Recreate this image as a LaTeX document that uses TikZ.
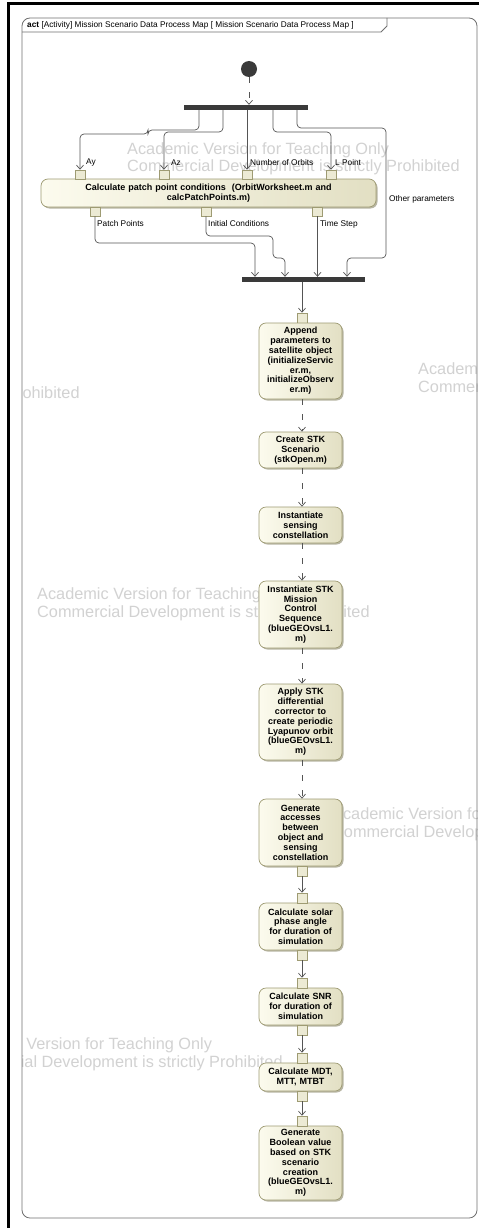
\documentclass[tikz,border=0pt]{standalone}
\usepackage{fontspec}
\setmainfont{Liberation Sans}
\usetikzlibrary{arrows.meta}
\definecolor{framec}{HTML}{707070}
\definecolor{boxL}{HTML}{FCFBEE}
\definecolor{boxR}{HTML}{E2DFC3}
\definecolor{boxB}{HTML}{9E9B73}
\definecolor{conn}{HTML}{555555}
\definecolor{barc}{HTML}{3A3A3A}
\definecolor{wm}{HTML}{D2D2D2}
\definecolor{shad}{HTML}{B8B6A4}
\newcommand{\bxf}{\fontsize{9}{9.8}\selectfont\bfseries}
\newcommand{\lbf}{\fontsize{8.3}{10}\selectfont}
\newcommand{\wmf}{\fontsize{16.3}{18}\selectfont}
\tikzset{
  actbox/.style={draw=boxB, line width=0.7pt, rounded corners=7pt, left color=boxL, right color=boxR,
    preaction={fill=shad, transform canvas={xshift=1.5pt,yshift=-1.5pt}},
    align=center, font=\bxf, inner sep=0pt, minimum width=83pt, text width=83pt},
  pinbox/.style={draw=boxB, line width=0.6pt, fill=boxR!60!boxL, minimum width=10pt, minimum height=9pt, inner sep=0pt},
  flow/.style={draw=conn, line width=0.7pt, rounded corners=4pt, -{Straight Barb[length=4pt,width=7pt]}},
  ctrl/.style={flow, dash pattern=on 6pt off 9pt},
  lbl/.style={font=\lbf, anchor=west, inner sep=0pt},
  wmk/.style={font=\wmf, text=wm, anchor=base west, inner sep=0pt},
  fbar/.style={fill=barc, draw=none, inner sep=0pt, minimum height=5pt}
}
\begin{document}
\begin{tikzpicture}[x=1pt, y=-1pt]
\useasboundingbox (0,0) rectangle (479,1228);
\fill[white] (0,0) rectangle (479,1228);
% outer thick border
\draw[line width=2.2pt] (8.5,1228) -- (8.5,3.5) -- (479,3.5);
% watermark
\begin{scope}
\clip[rounded corners=8pt] (22,18) rectangle (477,1218);
\node[wmk] (w1a) at (127,154) {Academic Version for Teaching Only};
\node[wmk] (w1b) at (127,171) {Commercial Development is strictly Prohibited};
\node[wmk] (w2a) at (418,374) {Academic Version for Teaching Only};
\node[wmk] (w2b) at (418,392) {Commercial Development is strictly Prohibited};
\node[wmk] (w3a) at (-253,380) {Academic Version for Teaching Only};
\node[wmk] (w3b) at (-253,398) {Commercial Development is strictly Prohibited};
\node[wmk] (w4a) at (37,599) {Academic Version for Teaching Only};
\node[wmk] (w4b) at (37,617) {Commercial Development is strictly Prohibited};
\node[wmk] (w5a) at (332,819) {Academic Version for Teaching Only};
\node[wmk] (w5b) at (332,837) {Commercial Development is strictly Prohibited};
\node[wmk] (w6a) at (-50,1049) {Academic Version for Teaching Only};
\node[wmk] (w6b) at (-50,1067) {Commercial Development is strictly Prohibited};
\end{scope}
% frame
\draw[framec, line width=0.8pt, rounded corners=8pt] (22,18) rectangle (477,1218);
\draw[framec, line width=0.8pt] (22,32) -- (381,32) -- (387,26) -- (387,18);
\node[font=\fontsize{8.3}{10}\selectfont, anchor=west, inner sep=0pt] (title) at (27,25.5)
  {\textbf{act} [Activity] Mission Scenario Data Process Map [ Mission Scenario Data Process Map ]};

% initial node and fork
\node[circle, fill=barc, minimum size=16pt, inner sep=0pt] (init) at (249,69) {};
\node[fbar, minimum width=124pt] (fork) at (246,107.5) {};
\draw[ctrl] (init) -- (init |- fork.north);

% patch point action
\node[actbox, minimum width=335pt, text width=335pt, minimum height=28pt] (calc) at (208.5,193)
  {Calculate patch point conditions\ \ (OrbitWorksheet.m and\\calcPatchPoints.m)};
\node[pinbox] (pAy) at (80,174.5) {};
\node[pinbox] (pAz) at (164,174.5) {};
\node[pinbox] (pNo) at (247,174.5) {};
\node[pinbox] (pLP) at (331,174.5) {};
\node[pinbox] (pPP) at (95,211.5) {};
\node[pinbox] (pIC) at (206,211.5) {};
\node[pinbox] (pTS) at (317.5,211.5) {};

\node[lbl] (lAy) at (86,163) {Ay};
\node[lbl] (lAz) at (171,163) {Az};
\node[lbl] (lNo) at (250,163) {Number of Orbits};
\node[lbl] (lLP) at (335,163) {L Point};
\node[lbl] (lOP) at (389,199) {Other parameters};
\node[lbl] (lPP) at (97,224) {Patch Points};
\node[lbl] (lIC) at (208,224) {Initial Conditions};
\node[lbl] (lTS) at (320,224) {Time Step};

% join bar
\node[fbar, minimum width=123pt] (join) at (303.5,279.5) {};

% flows from fork
\draw[flow] ([xshift=-47pt]fork.south) -- (199,130) -- (148,130) -- (148,134) -- (80,134) -- (pAy.north);
\draw[flow] ([xshift=-23pt]fork.south) -- (223,132) -- (164,132) -- (pAz.north);
\draw[flow] ([xshift=1pt]fork.south) -- (pNo.north);
\draw[flow] ([xshift=27pt]fork.south) -- (273,132) -- (331,132) -- (pLP.north);
\draw[flow] ([xshift=51pt]fork.south) -- (297,128) -- (386,128) -- (386,258) -- (347,258) -- ([xshift=43.5pt]join.north);
% flows to join
\draw[flow] (pPP.south) -- (95,243) -- (255,243) -- ([xshift=-48.5pt]join.north);
\draw[flow] (pIC.south) -- (206,236) -- (273,236) -- (273,258) -- (285,258) -- ([xshift=-18.5pt]join.north);
\draw[flow] (pTS.south) -- ([xshift=14pt]join.north);

% main column
\node[pinbox, minimum height=10pt] (pApp) at (302,318) {};
\draw[flow] (join.south -| pApp) -- (pApp.north);

\node[actbox, minimum height=76pt] (append) at (300.5,361)
  {Append\\parameters to\\satellite object\\(initializeServic\\er.m,\\initializeObserv\\er.m)};
\node[actbox, minimum height=36pt] (create) at (300.5,450) {Create STK\\Scenario\\(stkOpen.m)};
\node[actbox, minimum height=36pt] (sensing) at (300.5,525) {Instantiate\\sensing\\constellation};
\node[actbox, minimum height=67pt] (mcs) at (300.5,614.5)
  {Instantiate STK\\Mission\\Control\\Sequence\\(blueGEOvsL1.\\m)};
\node[actbox, minimum height=76pt] (apply) at (300.5,722)
  {Apply STK\\differential\\corrector to\\create periodic\\Lyapunov orbit\\(blueGEOvsL1.\\m)};
\node[actbox, minimum height=67pt] (access) at (300.5,832.5)
  {Generate\\accesses\\between\\object and\\sensing\\constellation};
\node[actbox, minimum height=47pt] (solar) at (300.5,926.5)
  {Calculate solar\\phase angle\\for duration of\\simulation};
\node[actbox, minimum height=37pt] (snr) at (300.5,1006.5)
  {Calculate SNR\\for duration of\\simulation};
\node[actbox, minimum height=28pt] (mdt) at (300.5,1077) {Calculate MDT,\\MTT, MTBT};
\node[actbox, minimum height=74pt] (bool) at (300.5,1163)
  {Generate\\Boolean value\\based on STK\\scenario\\creation\\(blueGEOvsL1.\\m)};

\draw[ctrl] (append.south -| pApp) -- (create.north -| pApp);
\draw[ctrl] (create.south -| pApp) -- (sensing.north -| pApp);
\draw[ctrl] (sensing.south -| pApp) -- (mcs.north -| pApp);
\draw[ctrl] (mcs.south -| pApp) -- (apply.north -| pApp);
\draw[ctrl] (apply.south -| pApp) -- (access.north -| pApp);

\node[pinbox, minimum height=10pt] (pAccB) at (302,871) {};
\node[pinbox, minimum height=10pt] (pSolT) at (302,898) {};
\node[pinbox, minimum height=10pt] (pSolB) at (302,955) {};
\node[pinbox, minimum height=10pt] (pSnrT) at (302,983) {};
\node[pinbox, minimum height=10pt] (pSnrB) at (302,1030) {};
\node[pinbox, minimum height=10pt] (pMdtT) at (302,1058) {};
\node[pinbox, minimum height=10pt] (pMdtB) at (302,1096) {};
\node[pinbox, minimum height=10pt] (pBoolT) at (302,1121) {};

\draw[flow] (pAccB.south) -- (pSolT.north);
\draw[flow] (pSolB.south) -- (pSnrT.north);
\draw[flow] (pSnrB.south) -- (pMdtT.north);
\draw[flow] (pMdtB.south) -- (pBoolT.north);
\end{tikzpicture}
\end{document}
